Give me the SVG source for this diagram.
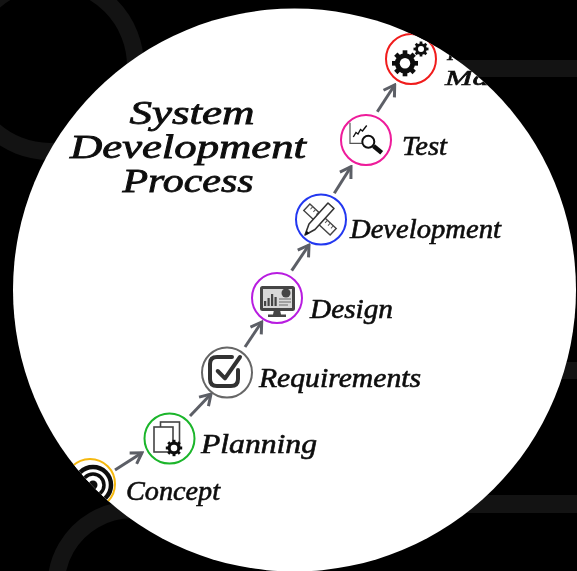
<svg xmlns="http://www.w3.org/2000/svg" width="577" height="571" viewBox="0 0 577 571">
<style>
.t{font-family:"Liberation Serif",serif;font-style:italic;fill:#111;stroke:#111;stroke-width:.6;font-size:27px}
.h{font-size:33px;stroke-width:.8;text-anchor:middle}
.s{font-size:22px}
.ring{fill:#fff;stroke-width:2}
.bg{fill:none;stroke:#131313;stroke-width:17}
.bar{fill:#131313}
.arr{fill:none;stroke:#5c5e66;stroke-width:3;marker-end:url(#head)}
.ln{fill:none;stroke:#333;stroke-linecap:round;stroke-linejoin:round}
.soft{filter:url(#soft)}
</style>
<defs>
<filter id="soft" x="-5%" y="-5%" width="110%" height="110%"><feGaussianBlur stdDeviation=".35"/></filter>
<clipPath id="disc"><circle cx="294.5" cy="290" r="281.5"/></clipPath>
<marker id="head" viewBox="0 0 16 16" refX="14" refY="8" markerWidth="16" markerHeight="16" markerUnits="userSpaceOnUse" orient="auto">
<path d="M3.500 1.500L14 8L3.500 14.500" fill="none" stroke="#5c5e66" stroke-width="3" stroke-linejoin="miter"/>
</marker>
<g id="gear">
<g fill="#111">
<rect x="-1.8" y="-10" width="3.6" height="20"/>
<rect x="-1.8" y="-10" width="3.6" height="20" transform="rotate(45)"/>
<rect x="-1.8" y="-10" width="3.6" height="20" transform="rotate(90)"/>
<rect x="-1.8" y="-10" width="3.6" height="20" transform="rotate(135)"/>
<circle r="7.8"/>
</g>
<circle r="4" fill="#fff"/>
</g>
</defs>
<rect width="577" height="571" fill="#000"/>
<g id="backdrop">
<circle class="bg" cx="50" cy="66" r="85.5"/>
<path class="bg" d="M56 586A76 76 0 0 1 170 520"/>
<rect class="bar" x="440" y="60" width="137" height="17"/>
<rect class="bar" x="540" y="362" width="37" height="17"/>
<rect class="bar" x="440" y="495" width="137" height="18"/>
<circle cx="294.5" cy="290" r="281.5" fill="#fff"/>
</g>
<g clip-path="url(#disc)">
<g class="soft">
<g id="connectors">
<path class="arr" d="M115 470L142 452.7"/>
<path class="arr" d="M190 416L211 394"/>
<path class="arr" d="M245 347L261.7 322"/>
<path class="arr" d="M291.7 270.7L309 245"/>
<path class="arr" d="M334.3 193.3L351 166.7"/>
<path class="arr" d="M377.3 111.7L394.7 85"/>
</g>
<g id="title">
<text class="t h" x="192" y="124" textLength="125" lengthAdjust="spacingAndGlyphs">System</text>
<text class="t h" x="188" y="158" textLength="236" lengthAdjust="spacingAndGlyphs">Development</text>
<text class="t h" x="188" y="192" textLength="131" lengthAdjust="spacingAndGlyphs">Process</text>
</g>
<g id="concept">
<circle class="ring" cx="90" cy="484" r="25" stroke="#f5b80f"/>
<g fill="none" stroke="#111"><circle cx="93" cy="485" r="18" stroke-width="4.5"/><circle cx="93" cy="485" r="11" stroke-width="3.5"/></g>
<circle cx="93" cy="485" r="4.5" fill="#111"/>
<text class="t" x="126" y="500" textLength="94" lengthAdjust="spacingAndGlyphs">Concept</text>
</g>
<g id="planning">
<circle class="ring" cx="169.5" cy="438.5" r="25" stroke="#1ab52a"/>
<rect x="160.5" y="422" width="19" height="24" fill="#fff" stroke="#444" stroke-width="1.6"/>
<rect x="154" y="427" width="19" height="25" fill="#fff" stroke="#444" stroke-width="1.6"/>
<use href="#gear" transform="translate(174 448) scale(.82)"/>
<text class="t" x="201" y="453" textLength="116" lengthAdjust="spacingAndGlyphs">Planning</text>
</g>
<g id="requirements">
<circle class="ring" cx="227" cy="372.5" r="25" stroke="#666"/>
<path class="ln" stroke-width="4" d="M232 357H217Q210 357 210 364V379Q210 386 217 386H231Q238 386 238 379V370"/>
<path class="ln" stroke-width="4" stroke="#222" d="M217.7 371L225 378.3L240 357"/>
<text class="t" x="259" y="387" textLength="162" lengthAdjust="spacingAndGlyphs">Requirements</text>
</g>
<g id="design">
<circle class="ring" cx="277" cy="298" r="25" stroke="#b81ee0"/>
<rect x="261.500" y="287.500" width="32" height="22" rx="1" fill="#d8d8d8" stroke="#444" stroke-width="3"/>
<path fill="#444" d="M274 310H280L281 314.5H286V317H268V314.5H273Z"/>
<g fill="#444"><rect x="264" y="301" width="2.2" height="5"/><rect x="267.5" y="298" width="2.2" height="8"/><rect x="271" y="294" width="2.2" height="12"/><rect x="274.5" y="297" width="2.2" height="9"/></g>
<circle cx="286" cy="293" r="4.5" fill="#444"/>
<path stroke="#666" stroke-width="1" d="M279 299H291M279 302H291M279 305H288"/>
<text class="t" x="310" y="318" textLength="83" lengthAdjust="spacingAndGlyphs">Design</text>
</g>
<g id="development">
<circle class="ring" cx="321" cy="219.5" r="25" stroke="#2438f0"/>
<g transform="translate(320 219.5) rotate(43)">
<rect x="-18" y="-4.5" width="36" height="9" fill="#fff" stroke="#444" stroke-width="1.4"/>
<path stroke="#555" stroke-width="1" d="M-14-4.5V-1M-10-4.5V-1M-6-4.5V-1M6-4.5V-1M10-4.5V-1M14-4.5V-1"/>
</g>
<path fill="#fff" stroke="#333" stroke-width="1.6" stroke-linejoin="round" d="M305 235L309 224L328 203L334 208.500L315 229.500Z"/>
<path fill="#111" d="M305 235L306.500 230.500L309.500 233.500Z"/>
<text class="t" x="350" y="238" textLength="151" lengthAdjust="spacingAndGlyphs">Development</text>
</g>
<g id="test">
<circle class="ring" cx="366" cy="140" r="25" stroke="#ee1a9a"/>
<path fill="none" stroke="#555" stroke-width="1.2" d="M350 122.700V143.300H362"/>
<path fill="none" stroke="#111" stroke-width="1.4" d="M353.300 137L356 132.500L358 134L360.500 129.500L362.500 131L366.700 125.500"/>
<circle cx="368.300" cy="141.700" r="6" fill="#fff" stroke="#111" stroke-width="2"/>
<path stroke="#111" stroke-width="4.500" d="M373.500 146L381.700 152.700"/>
<text class="t" x="402" y="155" textLength="45" lengthAdjust="spacingAndGlyphs">Test</text>
</g>
<g id="maintenance">
<circle class="ring" cx="411" cy="59" r="25" stroke="#f01c1c"/>
<use href="#gear" transform="translate(405 63.300) scale(1.3)"/>
<use href="#gear" transform="translate(421 49) scale(.75)"/>
<text class="t s" x="447" y="60">I</text>
<text class="t s" x="445" y="85" textLength="44" lengthAdjust="spacingAndGlyphs">Ma</text>
</g>
</g>
</g>
</svg>
